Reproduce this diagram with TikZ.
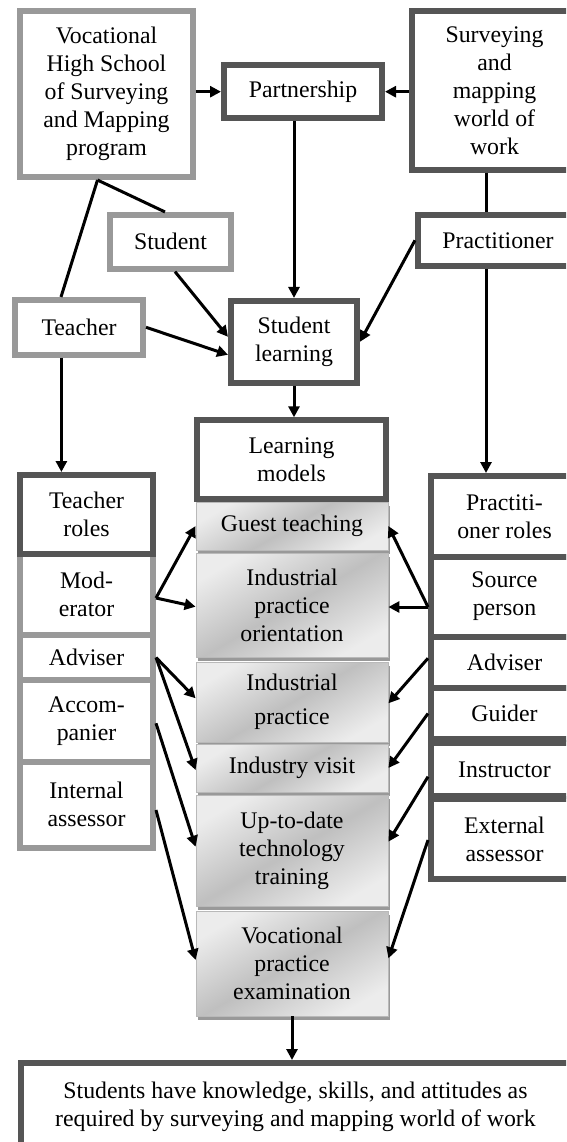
\documentclass[tikz,border=0pt]{standalone}
\usepackage{fontspec}
\setmainfont{Liberation Serif}
\usetikzlibrary{arrows.meta,shadows}
\definecolor{darkc}{RGB}{85,85,85}
\definecolor{lightc}{RGB}{153,153,153}
\newcommand\fs{\fontsize{23.8}{28}\selectfont}
\begin{document}
\begin{tikzpicture}[x=1pt,y=-1pt,
 base/.style={rectangle, inner sep=0pt, align=center, font=\fs, fill=white},
 dbox/.style={base, draw=darkc, line width=6pt},
 lbox/.style={base, draw=lightc, line width=6pt},
 mbox/.style={rectangle, inner sep=0pt, align=center, font=\fs, draw=gray!55, line width=0.8pt,
   top color=gray!15, bottom color=gray!15, middle color=gray!50, shading angle=30,
   minimum width=192pt, drop shadow={shadow xshift=1.5pt, shadow yshift=-4pt, fill=gray!80, opacity=1}},
 arr/.style={line width=3pt, -{Triangle[length=11pt,width=11pt]}},
 ln/.style={line width=3pt},
]
\useasboundingbox (0,0) rectangle (566,1142);
\clip (0,0) rectangle (566,1142);
\fill[white] (0,0) rectangle (566,1142);

% top
\node[lbox, minimum width=172.4, minimum height=165.7] (voc) at (106.5,94.2) {Vocational\\High School\\of Surveying\\and Mapping\\program};
\node[dbox, minimum width=158, minimum height=52.7] (part) at (303,91.7) {Partnership};
\node[dbox, minimum width=165, minimum height=158.4] (surv) at (494.5,90.5) {Surveying\\and\\mapping\\world of\\work};
\node[lbox, minimum width=121, minimum height=53.7] (stud) at (170.5,241.8) {Student};
\node[dbox, minimum width=160, minimum height=50.7] (prac) at (498,240.3) {Practitioner};
\node[lbox, minimum width=128, minimum height=54.7] (teach) at (79,327.3) {Teacher};
\node[dbox, minimum width=126, minimum height=81.7] (slearn) at (294,341.8) {Student\\learning};
\node[dbox, minimum width=189, minimum height=78.4] (lmod) at (291.5,459.5) {Learning\\models};

% left column
\node[lbox, minimum width=133, minimum height=81] (mod) at (86.5,594.5) {Mod-\\erator};
\node[lbox, minimum width=133, minimum height=45] (advL) at (86.5,657.5) {Adviser};
\node[lbox, minimum width=133, minimum height=81.5] (acc) at (86.5,720.75) {Accom-\\panier};
\node[lbox, minimum width=133, minimum height=86.5] (intl) at (86.5,804.75) {Internal\\assessor};
\node[dbox, minimum width=133, minimum height=79] (troles) at (86.5,514.5) {Teacher\\roles};

% right column
\node[dbox, minimum width=147, minimum height=80.5] (proles) at (504.5,516.25) {Practiti-\\oner roles};
\node[dbox, minimum width=147, minimum height=80] (srcR) at (504.5,596.5) {Source\\person};
\node[dbox, minimum width=147, minimum height=51.5] (advR) at (504.5,662.25) {Adviser};
\node[dbox, minimum width=147, minimum height=51] (guid) at (504.5,713.5) {Guider};
\node[dbox, minimum width=147, minimum height=53] (instr) at (504.5,769.5) {Instructor};
\node[dbox, minimum width=147, minimum height=80] (ext) at (504.5,839) {External\\assessor};

% middle column
\node[mbox, minimum height=48] (guest) at (292,526) {Guest teaching};
\node[mbox, minimum height=104] (ipo) at (292,605) {Industrial\\practice\\orientation};
\node[mbox, minimum height=80] (ip) at (292,702) {Industrial\\[6pt]practice};
\node[mbox, minimum height=48] (iv) at (292,768) {Industry visit};
\node[mbox, minimum height=111] (utd) at (292,850.5) {Up-to-date\\technology\\training};
\node[mbox, minimum height=105] (vpe) at (292,963.5) {Vocational\\practice\\examination};

% bottom
\node[dbox, minimum width=549, minimum height=87] (fin) at (295.5,1106.5) {Students have knowledge, skills, and attitudes as\\required by surveying and mapping world of work};

% connectors top
\draw[arr] (voc.east |- part.west) -- (part.west);
\draw[arr] (surv.west |- part.east) -- (part.east);
\draw[arr] (slearn.north |- part.south) -- (slearn.north);
\coordinate (vapex) at ([xshift=-9pt]voc.south);
\draw[ln] (vapex) -- ([xshift=-5.5pt]stud.north);
\draw[ln] (vapex) -- ([xshift=-18pt]teach.north);
\draw[ln] ([xshift=-8.5pt]surv.south) -- ([xshift=-8.5pt]surv.south |- prac.north);
\draw[arr] ([xshift=4.5pt]stud.south) -- ([yshift=5pt]slearn.west);
\draw[arr] (teach.east) -- ([yshift=-13pt]slearn.west);
\draw[arr] (prac.west) -- (slearn.east);
\draw[arr] (slearn.south) -- (slearn.south |- lmod.north);
\draw[arr] ([xshift=-17.6pt]teach.south) -- ([xshift=-17.6pt]teach.south |- troles.north);
\draw[arr] ([xshift=-12pt]prac.south) -- ([xshift=-12pt]prac.south |- proles.north);
\draw[arr] (vpe.south) -- (vpe.south |- fin.north);

% left arrows
\draw[arr] ([yshift=-3.5pt]mod.east) -- (guest.west);
\draw[arr] ([yshift=-3.5pt]mod.east) -- ([yshift=-1.7pt]ipo.west);
\draw[arr] (advL.east) -- ([yshift=3.7pt]ip.west);
\draw[arr] (advL.east) -- ([yshift=-2pt]iv.west);
\draw[arr] ([yshift=-2.5pt]acc.east) -- ([yshift=3.8pt]utd.west);
\draw[arr] ([yshift=-5.25pt]intl.east) -- ([yshift=3.5pt]vpe.west);

% right arrows
\draw[arr] ([yshift=-10.5pt]srcR.west) -- (guest.east);
\draw[arr] ([yshift=-10.5pt]srcR.west) -- ([yshift=-2pt]ipo.east);
\draw[arr] ([yshift=4pt]advR.west) -- ([yshift=-1.3pt]ip.east);
\draw[arr] (guid.west) -- (iv.east);
\draw[arr] ([yshift=-7.2pt]instr.west) -- ([yshift=8.8pt]utd.east);
\draw[arr] ([yshift=-1pt]ext.west) -- ([yshift=5.2pt]vpe.east);
\end{tikzpicture}
\end{document}
